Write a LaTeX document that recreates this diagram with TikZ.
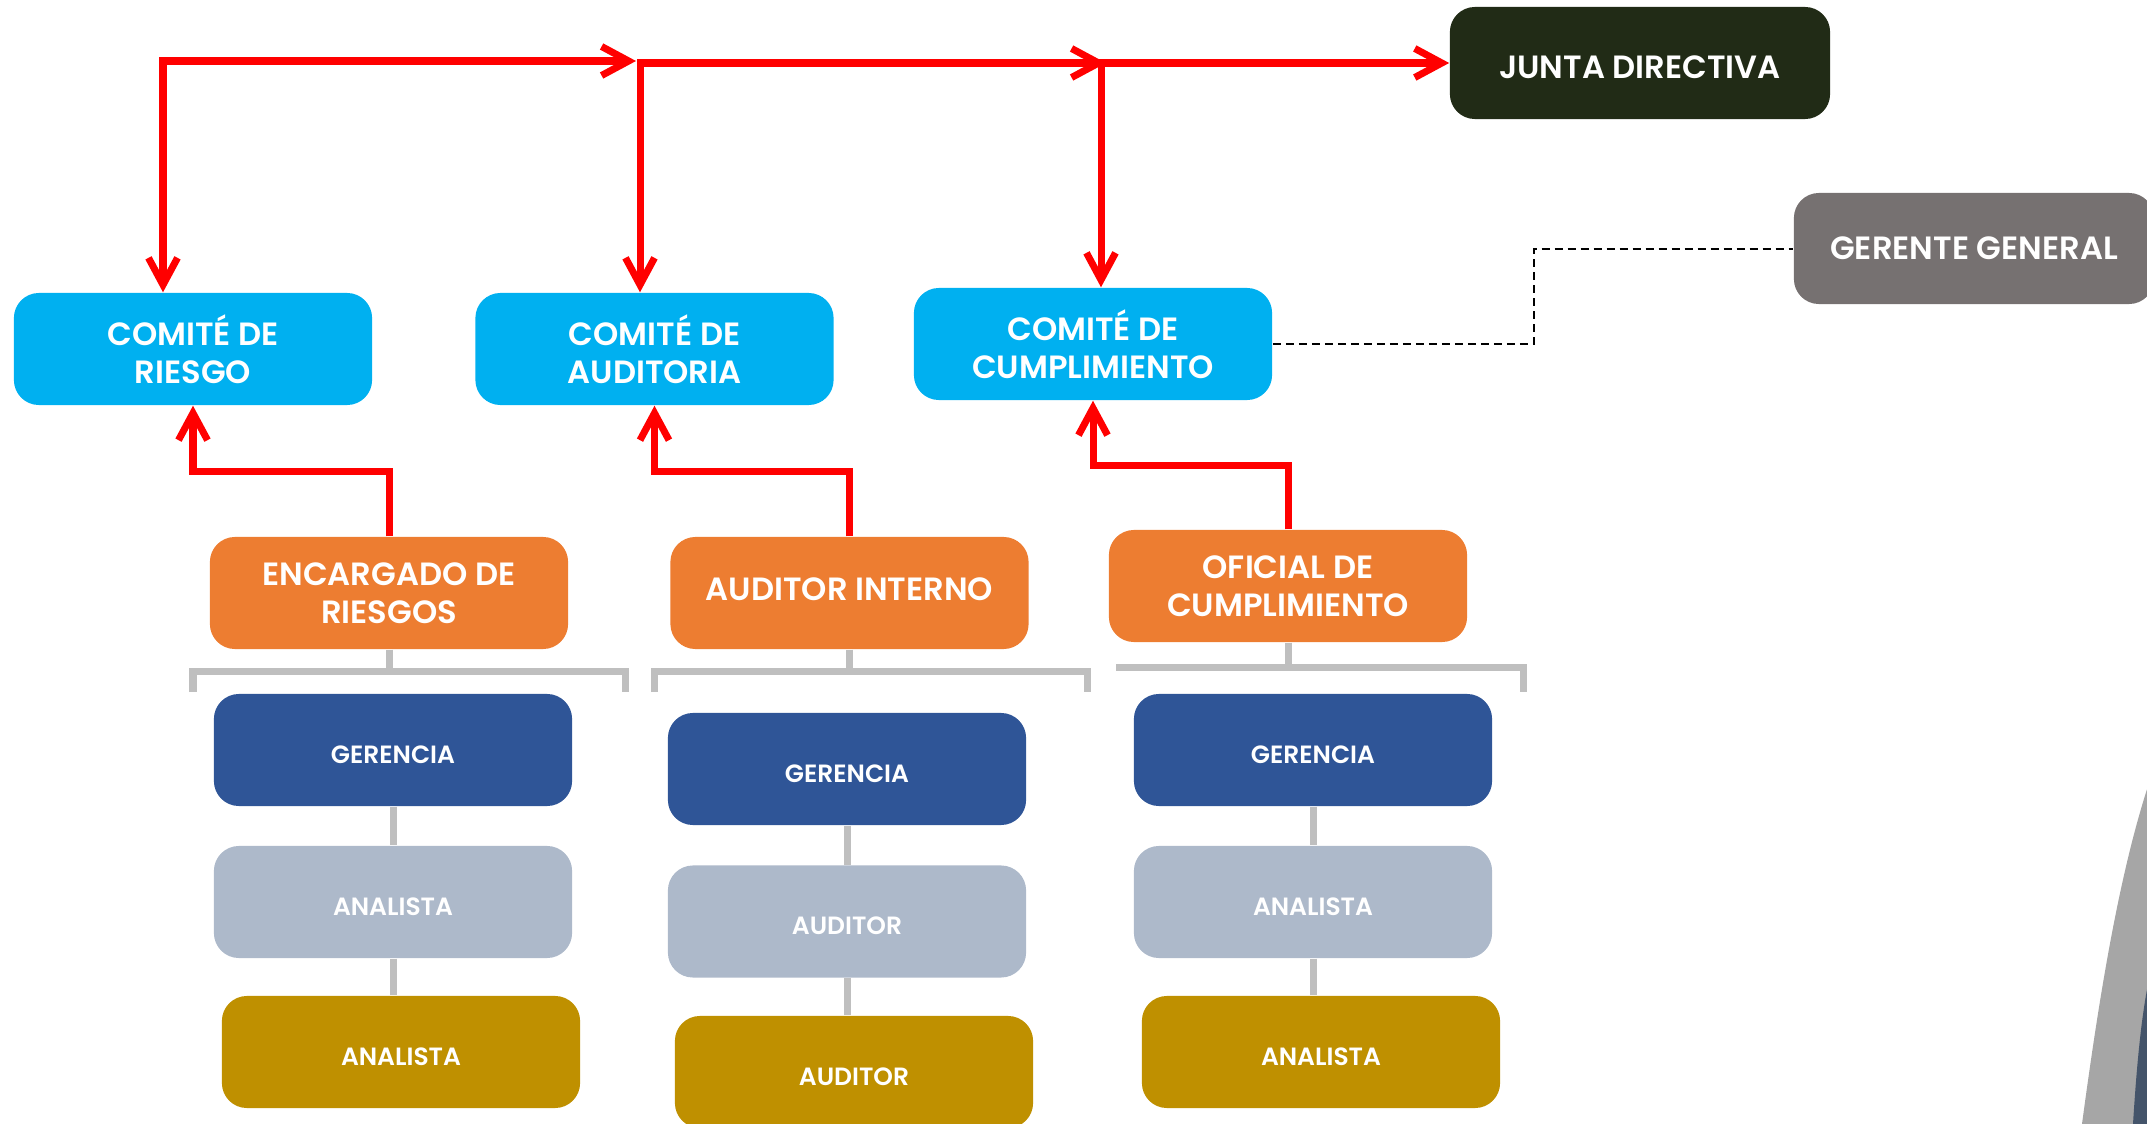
\documentclass[tikz,border=0pt]{standalone}
\usepackage{fontspec}
\setmainfont{Poppins}[BoldFont={Poppins SemiBold}]
\usetikzlibrary{arrows.meta}

\definecolor{rojo}{HTML}{FF0000}
\definecolor{celeste}{HTML}{00B0F0}
\definecolor{naranja}{HTML}{ED7D31}
\definecolor{azul}{HTML}{2F5597}
\definecolor{grisazul}{HTML}{ADB9CA}
\definecolor{oro}{HTML}{BF9000}
\definecolor{oliva}{HTML}{212B16}
\definecolor{gris}{HTML}{767171}
\definecolor{gristenue}{HTML}{BFBFBF}
\definecolor{grisarco}{HTML}{A6A6A6}
\definecolor{marino}{HTML}{44546A}

\tikzset{
  >={Straight Barb[length=0.27cm,width=0.29cm]},
  caja/.style={rounded corners=0.25cm, minimum width=3.58cm, minimum height=1.12cm,
    inner sep=0pt, align=center, text=white, font=\bfseries\fontsize{9.15}{10.9}\selectfont},
  comite/.style={caja, fill=celeste},
  cargo/.style={caja, fill=naranja},
  personal/.style={caja, font=\bfseries\fontsize{7.1}{9}\selectfont, text height=7.4pt, text depth=0pt},
  flecha/.style={draw=rojo, line width=0.07cm},
  enlace/.style={draw=gristenue, line width=0.07cm},
  punteada/.style={draw=black, line width=0.02cm, dash pattern=on 0.08cm off 0.05cm}
}

\begin{document}
\begin{tikzpicture}[x=0.01cm, y=-0.01cm]
	%%%%% START %%%%%
	\useasboundingbox (0,0) rectangle (2147,1124);
	
	% arco decorativo
	\fill[grisarco] (2082,1124) .. controls (2100,990) and (2120,870) .. (2150,780) -- (2160,780) -- (2160,1124) -- cycle;
	\fill[marino] (2133,1124) .. controls (2137,1060) and (2142,1010) .. (2150,975) -- (2160,975) -- (2160,1124) -- cycle;
	
	\node[caja, fill=oliva, minimum width=3.8cm, text height=8.7pt, text depth=0pt] (junta) at (1640,63) {JUNTA DIRECTIVA};
	\node[caja, fill=gris, minimum width=3.6cm, minimum height=1.11cm] (gerente) at (1974,248.5) {GERENTE GENERAL};
	
	\node[comite] (riesgo) at (193,349) {COMITÉ DE\\RIESGO};
	\node[comite] (auditoria) at (654.5,349) {COMITÉ DE\\AUDITORIA};
	\node[comite] (cumplim) at (1093,344) {COMITÉ DE\\CUMPLIMIENTO};
	
	\node[cargo] (encargado) at (389,593) {ENCARGADO DE\\RIESGOS};
	\node[cargo, text height=6.4pt, text depth=2.2pt] (auditor) at (849.5,593) {AUDITOR INTERNO};
	\node[cargo] (oficial) at (1288,586) {OFICIAL DE\\CUMPLIMIENTO};
	
	\node[personal, fill=azul] (ger1) at (393,750) {GERENCIA};
	\node[personal, fill=grisazul] (ana1) at (393,902) {ANALISTA};
	\node[personal, fill=oro] (oro1) at (401,1052) {ANALISTA};
	
	\node[personal, fill=azul] (ger2) at (847,769) {GERENCIA};
	\node[personal, fill=grisazul] (ana2) at (847,921.5) {AUDITOR};
	\node[personal, fill=oro] (oro2) at (854,1072) {AUDITOR};
	
	\node[personal, fill=azul] (ger3) at (1313,750) {GERENCIA};
	\node[personal, fill=grisazul] (ana3) at (1313,902) {ANALISTA};
	\node[personal, fill=oro] (oro3) at (1321,1052) {ANALISTA};
	
	% linea superior
	\coordinate (t1) at (163,61);
	\coordinate (t2) at (636,61);
	\coordinate (t3) at (640,63);
	\coordinate (t4) at (1106,63);
	\coordinate (t5) at (1101,63);
	\draw[flecha,<->] (riesgo.north -| t1) -- (t1) -- (t2);
	\draw[flecha,<->] (auditoria.north -| t3) -- (t3) -- (t4);
	\draw[flecha,<->] (cumplim.north -| t5) -- (t5) -- (junta.west);
	
	% reportes hacia los comites
	\draw[flecha,->] (encargado.north) -- ++(0,-65) -| (riesgo.south);
	\draw[flecha,->] (auditor.north) -- ++(0,-65) -| (auditoria.south);
	\draw[flecha,->] (oficial.north) -- ++(0,-64) -| (cumplim.south);
	
	\draw[punteada] (cumplim.east) -- ++(261,0) |- (gerente.west);
	
	% llaves grises
	\coordinate (l1) at (193,692);
	\coordinate (r1) at (625,692);
	\coordinate (l2) at (654,692);
	\coordinate (r2) at (1087,692);
	\coordinate (l3) at (1116,667);
	\coordinate (r3) at (1523,692);
	\draw[enlace] (encargado.south) -- ++(0,22);
	\draw[enlace] (l1) -- ++(0,-21) -| (r1);
	\draw[enlace] (auditor.south) -- ++(0,22);
	\draw[enlace] (l2) -- ++(0,-21) -| (r2);
	\draw[enlace] (oficial.south) -- ++(0,25);
	\draw[enlace] (l3) -| (r3);
	
	\draw[enlace] (ger1) -- (ana1);
	\draw[enlace] (ana1.south) -- (ana1.south |- oro1.north);
	\draw[enlace] (ger2) -- (ana2);
	\draw[enlace] (ana2.south) -- (ana2.south |- oro2.north);
	\draw[enlace] (ger3) -- (ana3);
	\draw[enlace] (ana3.south) -- (ana3.south |- oro3.north);
	%%%%% END %%%%%
\end{tikzpicture}
\end{document}
